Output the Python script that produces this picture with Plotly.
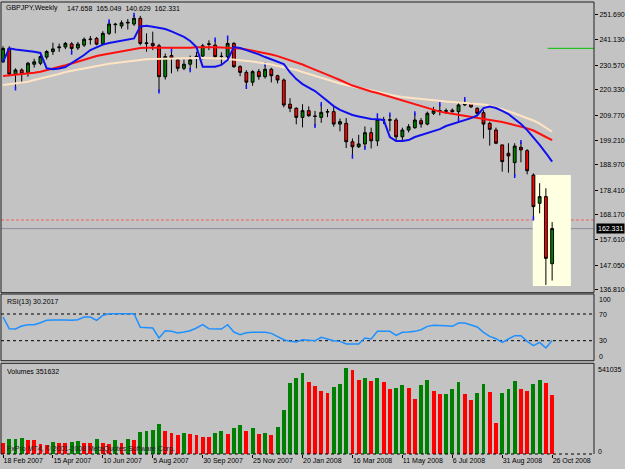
import plotly.graph_objects as go

# ---------------- data (weekly GBPJPY bars, 18 Feb 2007 .. 26 Oct 2008) ----------------
bar_index = list(range(89))

opens = [232.0, 237.6, 226.9, 228.6, 227.6, 231.0, 231.4, 234.0, 236.3, 237.9,
         238.2, 239.5, 237.8, 239.0, 241.3, 241.8, 239.6, 243.9, 247.5, 247.0,
         248.2, 247.8, 250.2, 239.6, 239.7, 238.7, 225.8, 234.6, 232.8, 229.3,
         231.0, 234.0, 234.4, 239.3, 239.0, 234.2, 234.2, 239.7, 230.0, 227.6,
         223.5, 227.9, 225.8, 228.9, 226.2, 224.4, 214.3, 212.6, 208.8, 211.6,
         209.2, 208.8, 211.0, 211.2, 206.0, 206.3, 198.6, 196.5, 197.7, 202.4,
         199.0, 207.8, 207.6, 207.7, 200.7, 203.5, 204.5, 207.4, 206.0, 210.5,
         211.5, 211.6, 211.8, 211.2, 214.0, 214.6, 212.6, 210.75, 206.3, 203.5,
         197.3, 193.8, 189.9, 196.3, 194.9, 184.7, 172.9, 175.7, 147.658]
highs = [238.5, 238.5, 229.3, 229.3, 232.0, 233.3, 235.0, 236.9, 240.0, 239.6,
         240.3, 240.2, 240.3, 242.2, 242.8, 242.4, 244.8, 248.9, 248.3, 249.3,
         249.9, 251.6, 251.2, 243.9, 244.6, 239.5, 235.5, 236.9, 233.6, 233.0,
         234.6, 236.2, 239.5, 241.0, 241.3, 236.0, 242.1, 240.2, 230.6, 228.5,
         228.5, 229.0, 231.0, 229.5, 226.6, 225.0, 216.8, 213.0, 214.3, 213.4,
         211.5, 214.3, 212.3, 213.5, 208.3, 208.5, 200.0, 201.5, 205.0, 204.5,
         209.6, 209.0, 210.0, 208.5, 204.5, 206.0, 210.5, 208.5, 211.2, 213.2,
         214.3, 212.5, 212.5, 215.0, 216.4, 215.0, 213.0, 211.8, 207.0, 204.5,
         197.3, 198.0, 198.0, 198.5, 195.5, 185.4, 181.3, 179.2, 165.049]
lows = [231.5, 226.0, 220.9, 223.0, 225.8, 229.6, 230.6, 233.0, 234.9, 236.2,
        237.3, 235.8, 237.0, 238.2, 239.2, 238.9, 239.0, 243.2, 243.9, 245.9,
        245.5, 247.0, 238.9, 236.2, 236.9, 219.6, 224.6, 227.2, 228.0, 228.5,
        228.5, 229.3, 233.0, 236.9, 233.5, 230.9, 233.5, 229.5, 226.0, 221.5,
        222.0, 224.5, 225.0, 223.4, 223.0, 213.0, 211.0, 205.9, 204.6, 209.0,
        205.2, 206.5, 208.9, 204.9, 203.0, 196.0, 192.4, 196.0, 196.0, 195.8,
        196.8, 206.0, 203.0, 199.0, 199.0, 202.5, 204.0, 204.5, 205.5, 209.8,
        209.6, 210.2, 210.8, 207.7, 213.5, 212.7, 209.8, 200.0, 197.0, 197.6,
        186.1, 185.7, 184.3, 190.0, 185.0, 166.6, 168.7, 138.8, 140.629]
closes = [237.6, 226.9, 228.6, 226.9, 231.4, 232.0, 234.2, 236.3, 237.4, 238.2,
          239.7, 237.6, 239.4, 241.4, 241.5, 239.4, 243.9, 247.8, 247.7, 248.3,
          248.5, 250.2, 239.7, 239.9, 238.7, 225.8, 234.2, 233.5, 229.3, 231.0,
          232.8, 234.3, 238.7, 239.5, 234.15, 234.3, 239.7, 229.97, 227.6, 223.5,
          227.9, 225.8, 228.9, 226.2, 224.4, 213.97, 212.6, 208.8, 211.6, 209.5,
          209.3, 210.9, 211.2, 206.0, 207.0, 198.6, 196.5, 197.7, 202.4, 199.0,
          207.9, 207.6, 207.8, 200.7, 203.5, 204.9, 207.7, 206.0, 210.5, 211.6,
          211.6, 211.4, 211.2, 214.0, 214.7, 213.2, 210.5, 206.0, 203.8, 198.0,
          190.3, 192.7, 196.8, 195.2, 186.5, 171.5, 175.7, 149.9, 162.331]

ma_fast = [232.05, 237.65, 237.15, 236.94, 236.6, 236.23, 235.7, 229.3, 228.9, 229.2,
           229.85, 231.5, 233.0, 234.85, 236.94, 238.2, 239.2, 239.9, 240.3, 240.7,
           241.1, 241.8, 246.8, 247.1, 246.7, 246.3, 245.7, 244.7, 243.6, 242.4,
           240.7, 238.2, 230.0, 230.0, 230.0, 230.7, 232.8, 238.2, 237.8, 236.9,
           236.1, 235.1, 234.0, 233.0, 232.05, 231.1, 227.6, 224.8, 222.7, 221.2,
           219.8, 217.7, 215.6, 213.5, 211.9, 210.8, 209.8, 209.2, 208.5, 208.1,
           208.0, 207.7, 200.6, 198.9, 198.9, 199.3, 200.6, 201.4, 202.3, 203.1,
           203.9, 205.2, 206.0, 206.9, 207.7, 208.5, 209.6, 212.7, 213.3, 212.7,
           211.5, 210.2, 208.1, 206.0, 203.5, 200.6, 197.3, 193.9, 190.3]
ma_mid = [226.08, 226.3, 226.5, 226.9, 227.1, 227.4, 227.9, 228.5, 229.1, 229.8,
          230.55, 231.3, 232.1, 232.9, 233.8, 234.4, 235.0, 235.5, 236.0, 236.3,
          236.8, 237.4, 237.8, 237.9, 237.9, 237.9, 237.8, 237.7, 237.7, 237.8,
          237.9, 238.1, 238.2, 238.2, 238.1, 238.0, 237.9, 237.9, 237.6, 237.2,
          236.7, 236.3, 235.7, 235.1, 234.4, 233.6, 232.8, 231.9, 230.9, 229.8,
          228.8, 227.75, 226.7, 225.5, 224.4, 223.2, 222.1, 221.3, 220.4, 219.6,
          219.0, 218.2, 217.5, 216.9, 216.1, 215.2, 214.4, 213.55, 212.7, 211.9,
          211.2, 210.7, 210.3, 209.8, 209.4, 208.95, 208.5, 208.1, 207.7, 207.3,
          206.9, 206.2, 205.6, 205.0, 204.2, 203.3, 202.1, 200.6, 199.3]
ma_slow = [222.3, 222.65, 223.0, 223.3, 223.7, 224.4, 225.0, 225.7, 226.3, 226.9,
           227.75, 228.25, 228.8, 229.3, 229.8, 230.5, 230.9, 231.2, 231.5, 231.8,
           232.1, 232.5, 233.0, 233.1, 233.2, 233.3, 233.35, 233.4, 233.5, 233.5,
           233.6, 233.6, 233.6, 233.6, 233.5, 233.4, 233.2, 233.0, 232.8, 232.4,
           232.1, 231.7, 231.4, 230.9, 230.3, 229.8, 229.2, 228.6, 227.75, 226.9,
           226.1, 225.2, 224.4, 223.65, 222.95, 222.3, 221.7, 221.1, 220.4, 219.8,
           219.2, 218.7, 218.2, 217.7, 217.3, 217.0, 216.6, 216.3, 216.1, 215.8,
           215.55, 215.4, 215.2, 215.05, 214.9, 214.7, 214.5, 214.2, 213.8, 213.05,
           212.3, 211.4, 210.4, 209.45, 208.5, 207.5, 206.2, 204.6, 202.8]

# fractal markers (bar indices of up / down fractals)
fractal_up_idx = [17, 21, 27, 34, 36, 42, 51, 60, 62, 66, 70, 74, 83]
fractal_down_idx = [2, 11, 25, 30, 39, 50, 56, 58, 73, 82, 85]

rsi = [65.5, 48, 47.5, 52, 54, 54, 57, 60.5, 61, 61.5,
       61, 60.5, 61.5, 65.5, 65.5, 60.5, 68, 70.5, 70.5, 70.5,
       70.5, 70.5, 50, 49.5, 49, 34, 45, 44, 41.5, 43,
       45, 49, 54, 48, 47.5, 47.5, 54, 43, 39, 42,
       42.5, 42.5, 42.5, 41, 36, 31.5, 29, 28, 31.5, 31,
       30, 35, 32, 30, 29, 25, 25, 25, 34, 32.5,
       44, 44, 44, 38, 42.5, 43, 44, 46.5, 51.5, 53,
       53, 52.5, 51.5, 56.5, 56.5, 54, 50.5, 42.5, 36.5, 33,
       27.5, 32.5, 37.5, 37.5, 29, 22.5, 27.5, 19, 30.2017]

volumes = [65400, 85200, 89200, 93100, 81300, 79300, 55500, 49500, 71300, 65400,
           63400, 71300, 75300, 65400, 61400, 85200, 65400, 59500, 79300, 65400,
           89200, 79300, 130800, 134800, 138700, 174400, 134800, 124900, 111000, 120900,
           114900, 111000, 101100, 99100, 120900, 134800, 118900, 150600, 168500, 134800,
           154600, 118900, 120900, 113000, 158500, 263600, 422100, 451900, 481600, 428100,
           402300, 372600, 362700, 398300, 418200, 511300, 501400, 438000, 451900, 432000,
           451900, 428100, 388400, 392400, 408300, 392400, 327000, 412200, 438000, 376500,
           356700, 358700, 386500, 428100, 358700, 323000, 362700, 416200, 368600, 180300,
           362700, 386500, 432000, 388400, 376500, 418200, 441900, 422100, 351632]

tick_idx = [0, 8, 16, 24, 32, 40, 48, 56, 64, 72, 80, 88]
tick_text = ["18 Feb 2007", "15 Apr 2007", "10 Jun 2007", "5 Aug 2007", "30 Sep 2007",
             "25 Nov 2007", "20 Jan 2008", "16 Mar 2008", "11 May 2008", "6 Jul 2008",
             "31 Aug 2008", "26 Oct 2008"]
price_ticks = [251.69, 241.13, 230.57, 220.33, 209.77, 199.21, 188.97, 178.41,
               168.17, 157.61, 147.05, 136.81]
price_range = [135.55, 257.0]
volume_max = 541035
rsi_levels = [70, 30]
red_level = 165.93
green_level = 237.65
green_level_start = 87.3
box_x = [84.9, 91.0]
box_y = [138.35, 184.7]

# ---------------- layout helpers ----------------
W, H = 625, 469
ML, MR, MT, MB = 1, 31, 2, 15
PW, PH = W - ML - MR, H - MT - MB
X_RANGE = [-0.32, 94.71]


def py(y):
    return (H - MB - y) / PH


def pxx(x):
    return (x - ML) / PW


BG = '#c3c3c3'
FONT = 'Liberation Sans, Arial, sans-serif'
FS = 7
FRAME = '#202020'

vol_colors = ['#ff0000']
for i in range(1, len(volumes)):
    vol_colors.append('#008000' if volumes[i] > volumes[i - 1] else '#ff0000')

fig = go.Figure()
fig.add_trace(go.Candlestick(
    x=bar_index, open=opens, high=highs, low=lows, close=closes,
    increasing=dict(fillcolor='#008000', line=dict(color='black', width=1)),
    decreasing=dict(fillcolor='#ff0000', line=dict(color='black', width=1)),
    whiskerwidth=0, xaxis='x', yaxis='y', showlegend=False, hoverinfo='skip'))
fig.add_trace(go.Scatter(x=fractal_up_idx, y=[highs[i] for i in fractal_up_idx], mode='markers',
                         marker=dict(symbol='line-ns', size=3, line=dict(color='#1010ff', width=1.5)),
                         xaxis='x', yaxis='y', showlegend=False, hoverinfo='skip'))
fig.add_trace(go.Scatter(x=fractal_down_idx, y=[lows[i] for i in fractal_down_idx], mode='markers',
                         marker=dict(symbol='line-ns', size=3, line=dict(color='#1010ff', width=1.5)),
                         xaxis='x', yaxis='y', showlegend=False, hoverinfo='skip'))
fig.add_trace(go.Scatter(x=bar_index, y=ma_slow, mode='lines', line=dict(color='#ffe4c4', width=2),
                         xaxis='x', yaxis='y', showlegend=False, hoverinfo='skip'))
fig.add_trace(go.Scatter(x=bar_index, y=ma_mid, mode='lines', line=dict(color='#ff1010', width=2),
                         xaxis='x', yaxis='y', showlegend=False, hoverinfo='skip'))
fig.add_trace(go.Scatter(x=bar_index, y=ma_fast, mode='lines', line=dict(color='#1010ee', width=2),
                         xaxis='x', yaxis='y', showlegend=False, hoverinfo='skip'))
fig.add_trace(go.Scatter(x=bar_index, y=rsi, mode='lines', line=dict(color='#1e90ff', width=1.5),
                         xaxis='x', yaxis='y2', showlegend=False, hoverinfo='skip'))
fig.add_trace(go.Bar(x=bar_index, y=volumes, marker=dict(color=vol_colors, line=dict(width=0)),
                     width=0.62, xaxis='x', yaxis='y3', showlegend=False, hoverinfo='skip'))

shapes = [
    dict(type='rect', xref='x', yref='y', x0=box_x[0], x1=box_x[1], y0=box_y[0], y1=box_y[1],
         fillcolor='#ffffe2', line=dict(width=0), layer='below'),
    dict(type='line', xref='x domain', yref='y', x0=0, x1=1, y0=red_level, y1=red_level,
         line=dict(color='#f06060', width=1, dash='3px,2px'), layer='below'),
    dict(type='line', xref='x domain', yref='y', x0=0, x1=1, y0=closes[-1], y1=closes[-1],
         line=dict(color='#8a8c98', width=1), layer='below'),
    dict(type='line', xref='x', yref='y', x0=green_level_start, x1=X_RANGE[1],
         y0=green_level, y1=green_level, line=dict(color='#00c000', width=1), layer='below'),
]
for lv in rsi_levels:
    shapes.append(dict(type='line', xref='x domain', yref='y2', x0=0, x1=1, y0=lv, y1=lv,
                       line=dict(color='black', width=1, dash='dot'), layer='below'))
# panel frames
for ax in ['y', 'y2']:
    shapes.append(dict(type='rect', xref='x domain', yref=ax + ' domain', x0=0, x1=1, y0=0, y1=1,
                       line=dict(color=FRAME, width=1), fillcolor='rgba(0,0,0,0)', layer='above'))
shapes += [
    dict(type='line', xref='x domain', yref='y3 domain', x0=0, x1=1, y0=1, y1=1,
         line=dict(color=FRAME, width=1)),
    dict(type='line', xref='x domain', yref='y3 domain', x0=0, x1=0, y0=0, y1=1,
         line=dict(color=FRAME, width=1)),
    dict(type='line', xref='x domain', yref='y3 domain', x0=1, x1=1, y0=0, y1=1,
         line=dict(color=FRAME, width=1)),
    dict(type='line', xref='x domain', yref='y3 domain', x0=0, x1=1, y0=0, y1=0,
         line=dict(color='black', width=1, dash='dot')),
]

tf = dict(family=FONT, size=FS, color='black')
nb = '\u00a0'
annotations = [
    dict(xref='paper', yref='paper', x=pxx(4), y=py(8), text='GBPJPY,Weekly', showarrow=False,
         xanchor='left', yanchor='middle', font=tf),
    dict(xref='paper', yref='paper', x=pxx(65), y=py(8),
         text=(nb * 2).join(f'{v:.3f}' for v in (opens[-1], highs[-1], lows[-1], closes[-1])),
         showarrow=False, xanchor='left', yanchor='middle', font=tf),
    dict(xref='paper', yref='paper', x=pxx(5), y=py(301.7), text=f'RSI(13) {rsi[-1]:.4f}',
         showarrow=False, xanchor='left', yanchor='middle', font=tf),
    dict(xref='paper', yref='paper', x=pxx(5), y=py(371), text=f'Volumes {volumes[-1]}',
         showarrow=False, xanchor='left', yanchor='middle', font=tf),
    dict(xref='paper', yref='paper', x=pxx(5), y=py(449.3),
         text='FxPro MT4, © 2001-2008 MetaQuotes Software Corp.',
         showarrow=False, xanchor='left', yanchor='middle', font=dict(family=FONT, size=FS, color='#202020')),
    dict(xref='paper', yref='y', x=1, y=closes[-1], text=f'{closes[-1]:.3f}', showarrow=False,
         xanchor='left', yanchor='middle', xshift=2, bgcolor='black', borderpad=1,
         font=dict(family=FONT, size=FS, color='white')),
]
for val, txt, sh in [(100, '100', -5), (70, '70', 0), (30, '30', 0), (0, '0', 4)]:
    annotations.append(dict(xref='paper', yref='y2', x=1, y=val, text=txt, showarrow=False,
                            xanchor='left', yanchor='middle', xshift=3, yshift=sh, font=tf))
for val, txt, sh in [(volume_max, str(volume_max), -6), (0, '0', 3)]:
    annotations.append(dict(xref='paper', yref='y3', x=1, y=val, text=txt, showarrow=False,
                            xanchor='left', yanchor='middle', xshift=2, yshift=sh, font=tf))

common_y = dict(showgrid=False, zeroline=False, showline=False, anchor='x', side='right', fixedrange=True)
fig.update_layout(
    width=W, height=H, margin=dict(l=ML, r=MR, t=MT, b=MB, pad=0),
    paper_bgcolor=BG, plot_bgcolor=BG, showlegend=False, bargap=0, boxgap=0.35,
    font=tf,
    xaxis=dict(range=X_RANGE, anchor='y3', showgrid=False, zeroline=False, showline=False,
               tickvals=tick_idx, ticktext=tick_text, ticks='outside', ticklen=3, tickcolor='black',
               ticklabelposition='outside right', tickfont=tf, rangeslider=dict(visible=False),
               fixedrange=True),
    yaxis=dict(domain=[py(292.7), 1], range=price_range, tickvals=price_ticks,
               ticktext=[f'{v:.3f}' for v in price_ticks], ticks='outside', ticklen=3,
               tickcolor='black', tickfont=tf, **common_y),
    yaxis2=dict(domain=[py(360.7), py(294)], range=[0, 100], showticklabels=False, ticks='', **common_y),
    yaxis3=dict(domain=[0, py(363.3)], range=[0, volume_max], showticklabels=False, ticks='', **common_y),
    shapes=shapes, annotations=annotations,
)

fig.write_html('out.html')
